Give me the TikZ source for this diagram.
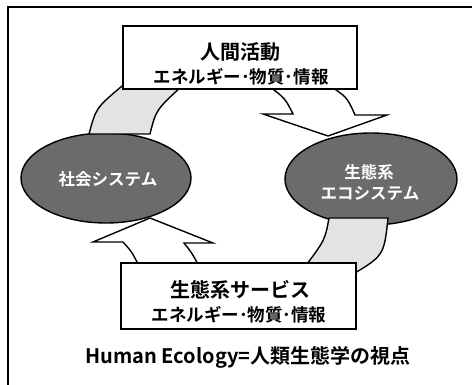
\documentclass[tikz,border=0pt]{standalone}
\usepackage{fontspec}
\setmainfont{Noto Sans CJK JP}[BoldFont=* Bold]
\begin{document}
\begin{tikzpicture}[x=1pt,y=-1pt,
  box/.style={draw=black,line width=1.4pt,fill=white},
  sys/.style={draw=black,line width=1.4pt,fill=black!58},
  band/.style={draw=black,line width=1.4pt,fill=black!11,line join=round},
  head/.style={draw=black,line width=1.4pt,fill=white,line join=miter},
  lbl/.style={inner sep=0pt,font=\bfseries},
  wlbl/.style={inner sep=0pt,text=white,font=\bfseries\fontsize{16.5}{18}\selectfont}]
\useasboundingbox (0,0) rectangle (472,385);
% frame
\draw[line width=2pt] (8,386) -- (8,7) -- (472,7);
% ellipses
\draw[sys] (106,178) ellipse [x radius=85, y radius=45];
\node[wlbl] (soc) at (108,179) {社会システム};
\draw[sys] (371,179) ellipse [x radius=86, y radius=46];
\node[wlbl] (eco1) at (369,172) {生態系};
\node[wlbl] (eco2) at (370,194) {エコシステム};
% upper arrow: shaded tail (left) and white head (right)
\draw[band] (89,134) .. controls (96,108) .. (122,86) -- (182,86)
  .. controls (156,110) .. (150,134) -- cycle;
\draw[head] (266,84) .. controls (285,98) .. (293,114) -- (263,114) -- (328,136)
  -- (387,115) -- (355,115) .. controls (347,97) .. (327,84) -- cycle;
% lower arrow: shaded tail (right) and white head (left)
\draw[band] (304,268) .. controls (325,240) .. (329,218) -- (388,218)
  .. controls (384,256) .. (348,277) -- cycle;
\draw[head] (150,218) -- (213,243) -- (184,243) .. controls (192,253) .. (200,268)
  -- (140,268) .. controls (132,252) .. (123,242) -- (93,242) -- cycle;
% boxes
\draw[box] (123,26) rectangle (357,89);
\node[lbl,font=\bfseries\fontsize{20}{22}\selectfont] (ha) at (240,52) {人間活動};
\node[lbl,font=\bfseries\fontsize{17.5}{19}\selectfont] (ha2) at (241,77) {エネルギー･物質･情報};
\draw[box] (121,263) rectangle (356,329);
\node[lbl,font=\bfseries\fontsize{20}{22}\selectfont] (es) at (240,290) {生態系サービス};
\node[lbl,font=\bfseries\fontsize{17.5}{19}\selectfont] (es2) at (239,315) {エネルギー･物質･情報};
% caption
\node[lbl,font=\bfseries\fontsize{20}{22}\selectfont] (cap) at (248,357) {Human Ecology=人類生態学の視点};
\end{tikzpicture}
\end{document}
